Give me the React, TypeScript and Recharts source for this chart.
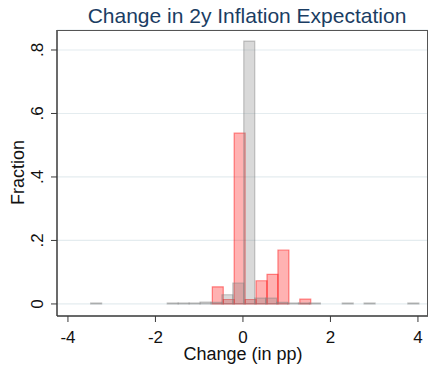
import { CartesianGrid, ComposedChart, ReferenceArea, XAxis, YAxis } from "recharts";

const binWidth = 0.25;

// prior (gray) histogram: bin left edges and fractions
const grayStarts = [-3.48, -1.73, -1.48, -1.23, -0.98, -0.73, -0.48, -0.23, 0.02, 0.27, 0.52, 0.77, 1.02, 1.27, 1.52, 2.27, 2.77, 3.77];
const grayFractions = [0.003, 0.003, 0.003, 0.003, 0.006, 0.005, 0.029, 0.066, 0.828, 0.018, 0.018, 0.005, 0.003, 0.003, 0.003, 0.003, 0.003, 0.003];

// treated (red) histogram
const redStarts = [-0.7, -0.45, -0.2, 0.05, 0.3, 0.55, 0.8, 1.3];
const redFractions = [0.054, 0.014, 0.538, 0.014, 0.073, 0.093, 0.17, 0.015];

const xTicks = [-4, -2, 0, 2, 4];
const yTicks = [0, 0.2, 0.4, 0.6, 0.8];

const font = "'Liberation Sans', Arial, sans-serif";

const fmtY = (v: number) => (v === 0 ? "0" : v.toFixed(1).replace(/^0/, ""));

const YTick = ({ x, y, payload }: any) => (
  <text
    x={x}
    y={y}
    transform={`rotate(-90 ${x} ${y})`}
    textAnchor="middle"
    fontSize={17}
    fontFamily={font}
    fill="#111"
  >
    {fmtY(payload.value)}
  </text>
);

const XTick = ({ x, y, payload }: any) => (
  <text x={x} y={y + 11} textAnchor="middle" fontSize={17} fontFamily={font} fill="#111">
    {payload.value}
  </text>
);

const grayBins = grayStarts.map((start, i) => ({ x1: start, x2: start + binWidth, h: grayFractions[i] }));
const redBins = redStarts.map((start, i) => ({ x1: start, x2: start + binWidth, h: redFractions[i] }));

export default function App() {
  return (
    <div style={{ position: "absolute", left: 0, top: 0, width: 430, height: 366, background: "#fff", fontFamily: font }}>
      <div
        style={{
          position: "absolute",
          left: 0,
          width: 494,
          top: 3,
          textAlign: "center",
          fontSize: 21,
          color: "#1a3d63",
          lineHeight: "26px",
        }}
      >
        Change in 2y Inflation Expectation
      </div>
      <ComposedChart
        width={430}
        height={366}
        data={[...grayBins, ...redBins]}
        margin={{ top: 30, right: 2, bottom: 0, left: 0 }}
      >
        <CartesianGrid vertical={false} stroke="#e4ecef" strokeWidth={1.2} />
        <XAxis
          type="number"
          dataKey="x1"
          domain={[-4.25, 4.23]}
          ticks={xTicks}
          allowDataOverflow
          height={50}
          tickSize={6}
          tickMargin={10}
          tick={<XTick />}
          axisLine={{ stroke: "#3a3a3a", strokeWidth: 1.5 }}
          tickLine={{ stroke: "#3a3a3a" }}
        />
        <YAxis
          type="number"
          domain={[-0.038, 0.863]}
          ticks={yTicks}
          allowDataOverflow
          width={57}
          tickSize={6}
          tickMargin={8}
          tick={<YTick />}
          axisLine={{ stroke: "#3a3a3a", strokeWidth: 1.5 }}
          tickLine={{ stroke: "#3a3a3a" }}
        />
        {redBins.map((b) => (
          <ReferenceArea
            key={`r${b.x1}`}
            x1={b.x1}
            x2={b.x2}
            y1={0}
            y2={b.h}
            fill="rgba(255,0,0,0.3)"
            fillOpacity={1}
            stroke="rgba(255,0,0,0.45)"
            strokeWidth={1.2}
          />
        ))}
        {grayBins.map((b) => (
          <ReferenceArea
            key={`g${b.x1}`}
            x1={b.x1}
            x2={b.x2}
            y1={0}
            y2={b.h}
            fill="rgba(128,128,128,0.3)"
            fillOpacity={1}
            stroke="rgba(128,128,128,0.45)"
            strokeWidth={1.2}
          />
        ))}
      </ComposedChart>
      <div
        style={{
          position: "absolute",
          left: 57,
          top: 30,
          width: 371,
          height: 286,
          borderTop: "1px solid #555",
          borderRight: "1px solid #555",
          pointerEvents: "none",
          boxSizing: "border-box",
        }}
      />
      <div
        style={{
          position: "absolute",
          left: 143,
          width: 200,
          top: 345,
          textAlign: "center",
          fontSize: 18,
          lineHeight: "18px",
          color: "#111",
        }}
      >
        Change (in pp)
      </div>
      <svg style={{ position: "absolute", left: 0, top: 0, pointerEvents: "none" }} width={40} height={366}>
        <text
          x={23.5}
          y={172.5}
          transform="rotate(-90 23.5 172.5)"
          textAnchor="middle"
          fontSize={18}
          fontFamily={font}
          fill="#111"
        >
          Fraction
        </text>
      </svg>
    </div>
  );
}
